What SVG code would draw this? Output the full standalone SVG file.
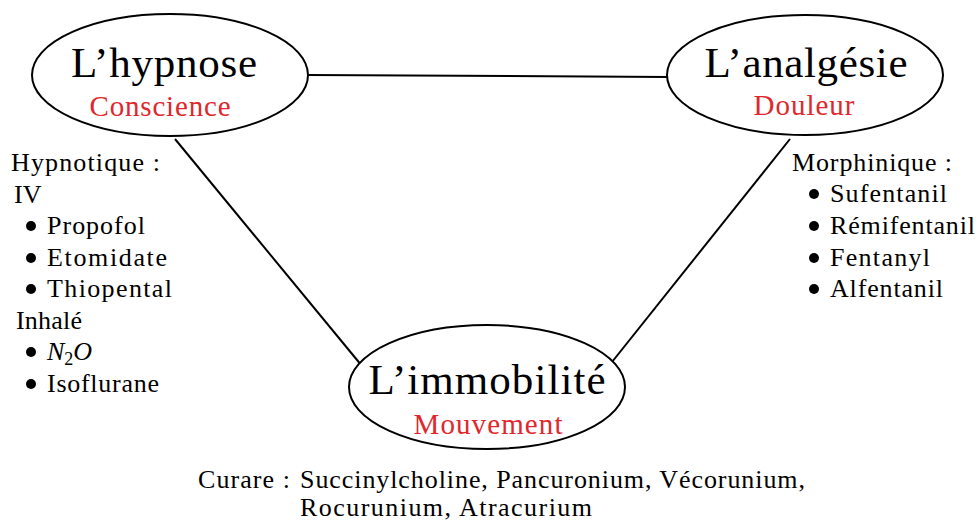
<svg xmlns="http://www.w3.org/2000/svg" width="979" height="522" viewBox="0 0 979 522">
<style>
text{font-family:'Liberation Serif','Times New Roman',Times,'Noto Serif','DejaVu Serif',serif;fill:#000}
.title{font-size:43px;text-anchor:middle}
.sub{font-size:29px;text-anchor:middle;fill:#e0282c}
.item{font-size:26px}
.bul{fill:#000}
.node{fill:#fff;stroke:#000;stroke-width:2}
.edge{stroke:#000;stroke-width:2;fill:none}
</style>
<rect width="979" height="522" fill="#fff"/>
<g id="connectors">
<line class="edge" x1="308" y1="75" x2="668" y2="77"/>
<line class="edge" x1="175" y1="139" x2="362" y2="366"/>
<line class="edge" x1="790" y1="139" x2="612" y2="362"/>
</g>
<g id="hypnose">
<ellipse class="node" cx="170" cy="75" rx="138" ry="61"/>
<text class="title" x="164" y="77" textLength="186">L’hypnose</text>
<text class="sub" x="160" y="116" textLength="141">Conscience</text>
</g>
<g id="analgesie">
<ellipse class="node" cx="805" cy="75" rx="138" ry="60"/>
<text class="title" x="806" y="77" textLength="203">L’analgésie</text>
<text class="sub" x="804" y="115" textLength="101">Douleur</text>
</g>
<g id="immobilite">
<ellipse class="node" cx="487" cy="387" rx="138" ry="62"/>
<text class="title" x="487" y="394" textLength="237">L’immobilité</text>
<text class="sub" x="488" y="434" textLength="149">Mouvement</text>
</g>
<g id="hypnotiques">
<text class="item" x="11" y="171" textLength="149">Hypnotique :</text>
<text class="item" x="14" y="203">IV</text>
<circle class="bul" cx="31" cy="226" r="5"/><text class="item" x="47" y="234" textLength="98">Propofol</text>
<circle class="bul" cx="31" cy="258" r="5"/><text class="item" x="47" y="266" textLength="120">Etomidate</text>
<circle class="bul" cx="31" cy="289" r="5"/><text class="item" x="47" y="297" textLength="125">Thiopental</text>
<text class="item" x="16" y="329" textLength="66">Inhalé</text>
<circle class="bul" cx="31" cy="352" r="5"/><text class="item" x="47" y="360"><tspan font-style="italic">N</tspan><tspan font-size="18" dy="5">2</tspan><tspan font-style="italic" dy="-5">O</tspan></text>
<circle class="bul" cx="31" cy="384" r="5"/><text class="item" x="47" y="392" textLength="112">Isoflurane</text>
</g>
<g id="morphiniques">
<text class="item" x="792" y="171" textLength="160">Morphinique :</text>
<circle class="bul" cx="814" cy="194" r="5"/><text class="item" x="830" y="202" textLength="117">Sufentanil</text>
<circle class="bul" cx="814" cy="226" r="5"/><text class="item" x="830" y="234" textLength="145">Rémifentanil</text>
<circle class="bul" cx="814" cy="258" r="5"/><text class="item" x="830" y="266" textLength="100">Fentanyl</text>
<circle class="bul" cx="814" cy="289" r="5"/><text class="item" x="830" y="297" textLength="113">Alfentanil</text>
</g>
<g id="curares">
<text class="item" x="198" y="488" textLength="92">Curare :</text>
<text class="item" x="300" y="488" textLength="505">Succinylcholine, Pancuronium, Vécorunium,</text>
<text class="item" x="300" y="516" textLength="292">Rocurunium, Atracurium</text>
</g>
</svg>
